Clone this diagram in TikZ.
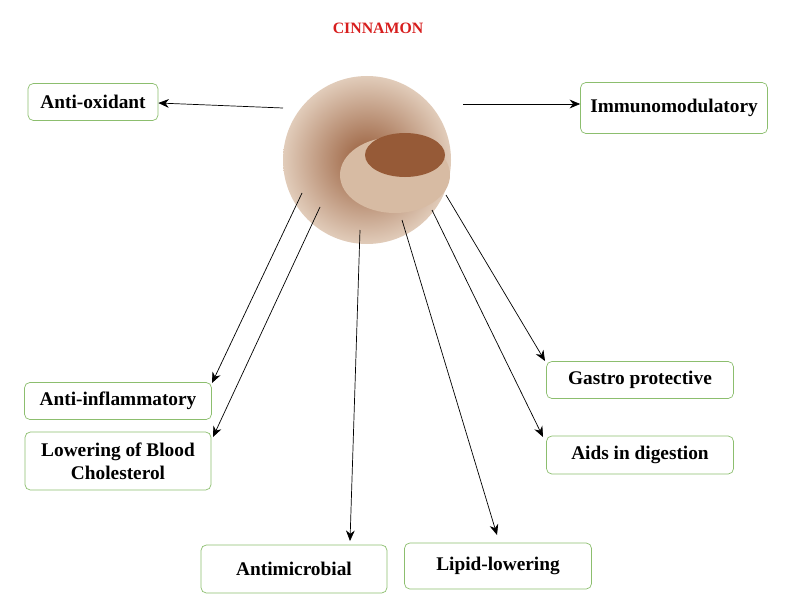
\documentclass[tikz,border=0pt]{standalone}
\usepackage{fontspec}
\setmainfont{Liberation Serif}
\usetikzlibrary{positioning, arrows.meta, calc}
\definecolor{boxgreen}{RGB}{140,190,110}
\definecolor{cinred}{RGB}{215,30,30}
\definecolor{powder}{RGB}{150,90,55}
\definecolor{wood}{RGB}{205,170,140}
\tikzset{
    effect/.style={draw=boxgreen, rounded corners=3pt, fill=white, align=center,
      font=\fontsize{11}{13}\selectfont\bfseries, inner sep=2pt},
    link/.style={-{Stealth[length=6pt,width=5pt]}, thin},
}
\begin{document}
\begin{tikzpicture}[x=0.02cm, y=-0.02cm]
    \useasboundingbox (0,0) rectangle (800,598);

    \node[font=\fontsize{9}{11}\selectfont\bfseries, text=cinred] (title) at (378,28) {CINNAMON};

    % picture of cinnamon
    \shade[inner color=powder, outer color=wood!60!white] (367,160) circle (84);
    \fill[wood!80!white] (395,175) ellipse (55 and 38);
    \fill[powder] (405,155) ellipse (40 and 22);
    \node[circle, minimum size=3.3cm, inner sep=0pt] (cin) at (367,160) {};

    \node[effect, minimum width=2.6cm, minimum height=0.74cm] (antiox) at (93,102) {Anti-oxidant};
    \node[effect, minimum width=3.74cm, minimum height=1.02cm] (immuno) at (674,108) {Immunomodulatory};
    \node[effect, minimum width=3.74cm, minimum height=0.74cm] (antiinf) at (118,401) {Anti-inflammatory};
    \node[effect, minimum width=3.72cm, minimum height=1.16cm] (chol) at (118,461) {Lowering of Blood\\Cholesterol};
    \node[effect, minimum width=3.74cm, minimum height=0.74cm] (gastro) at (640,380) {Gastro protective};
    \node[effect, minimum width=3.74cm, minimum height=0.76cm] (digest) at (640,455) {Aids in digestion};
    \node[effect, minimum width=3.72cm, minimum height=0.96cm] (microb) at (294,569) {Antimicrobial};
    \node[effect, minimum width=3.74cm, minimum height=0.92cm] (lipid) at (498,566) {Lipid-lowering};

    \coordinate (t1) at (283,108);
    \coordinate (t2) at (463,104);
    \coordinate (t3) at (302,193);
    \coordinate (t4) at (320,207);
    \coordinate (t5) at (360,230);
    \coordinate (t6) at (402,220);
    \coordinate (t7) at (432,210);
    \coordinate (t8) at (446,195);
    \coordinate (h3) at (212,383);
    \coordinate (h4) at (213,437);
    \coordinate (h5) at (350,541);
    \coordinate (h6) at (497,535);
    \coordinate (h7) at (543,437);
    \coordinate (h8) at (545,361);

    \draw[link] (t1) -- (antiox.east |- 0,103);
    \draw[link] (t2) -- (immuno.west |- 0,104);
    \draw[link] (t3) -- (h3);
    \draw[link] (t4) -- (h4);
    \draw[link] (t5) -- (h5);
    \draw[link] (t6) -- (h6);
    \draw[link] (t7) -- (h7);
    \draw[link] (t8) -- (h8);
\end{tikzpicture}
\end{document}
